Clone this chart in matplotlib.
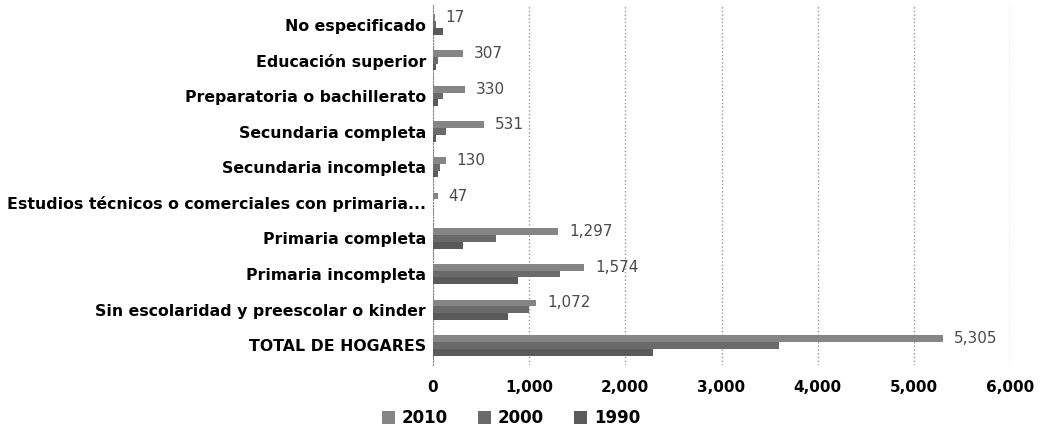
import numpy as np
import matplotlib.pyplot as plt
from matplotlib import font_manager

# categories from bottom to top (as drawn by barh)
categorias = ['TOTAL DE HOGARES',
              'Sin escolaridad y preescolar o kinder',
              'Primaria incompleta',
              'Primaria completa',
              'Estudios técnicos o comerciales con primaria...',
              'Secundaria incompleta',
              'Secundaria completa',
              'Preparatoria o bachillerato',
              'Educación superior',
              'No especificado']

v2010 = [5305, 1072, 1574, 1297, 47, 130, 531, 330, 307, 17]
v2000 = [3600, 1000, 1320, 660, 0, 70, 140, 100, 50, 30]
v1990 = [2290, 780, 880, 310, 0, 50, 35, 50, 30, 100]

series = ['2010', '2000', '1990']
colores = ['#858585', '#6a6a6a', '#5a5a5a']

names = {f.name for f in font_manager.fontManager.ttflist}
fam = 'Liberation Sans Narrow' if 'Liberation Sans Narrow' in names else 'DejaVu Sans'
plt.rcParams['font.family'] = [fam, 'DejaVu Sans']

fig = plt.figure(figsize=(10.43, 4.42), dpi=100)
ax = fig.add_axes([433/1043, 1 - 365/442, (1010 - 433)/1043, 360/442])

y = np.arange(len(categorias))
h = 0.19
for i, (vals, lab, col) in enumerate(zip([v2010, v2000, v1990], series, colores)):
    ax.barh(y + (1 - i) * h, vals, height=h, color=col, label=lab, zorder=3)

for yi, v in zip(y, v2010):
    ax.annotate('{:,}'.format(v), (v, yi + h), xytext=(8, 0), textcoords='offset points',
                va='center', ha='left', fontsize=11, color='#4a4a4a')

ax.set_xlim(0, 6000)
ax.set_ylim(-0.55, len(categorias) - 0.45)
ax.set_xticks(np.arange(0, 6001, 1000))
ax.set_xticklabels(['{:,}'.format(t) for t in range(0, 6001, 1000)],
                   fontsize=11, fontweight='bold')
ax.set_yticks(y)
ax.set_yticklabels(categorias, fontsize=11.3, fontweight='bold')
ax.tick_params(length=0, pad=5)
ax.tick_params(axis='x', pad=11)
ax.xaxis.grid(True, linestyle=':', color='#999999', linewidth=1, zorder=0)
for s in ['top', 'right', 'bottom']:
    ax.spines[s].set_visible(False)
ax.spines['left'].set_linestyle(':')
ax.spines['left'].set_color('#888888')

fig.legend(loc='lower center', bbox_to_anchor=(0.49, 0.0), ncol=3, frameon=False,
           prop={'size': 12, 'weight': 'bold'}, handlelength=0.8, handleheight=0.8,
           columnspacing=1.8, handletextpad=0.4)

fig.savefig('out.png', dpi=100)
